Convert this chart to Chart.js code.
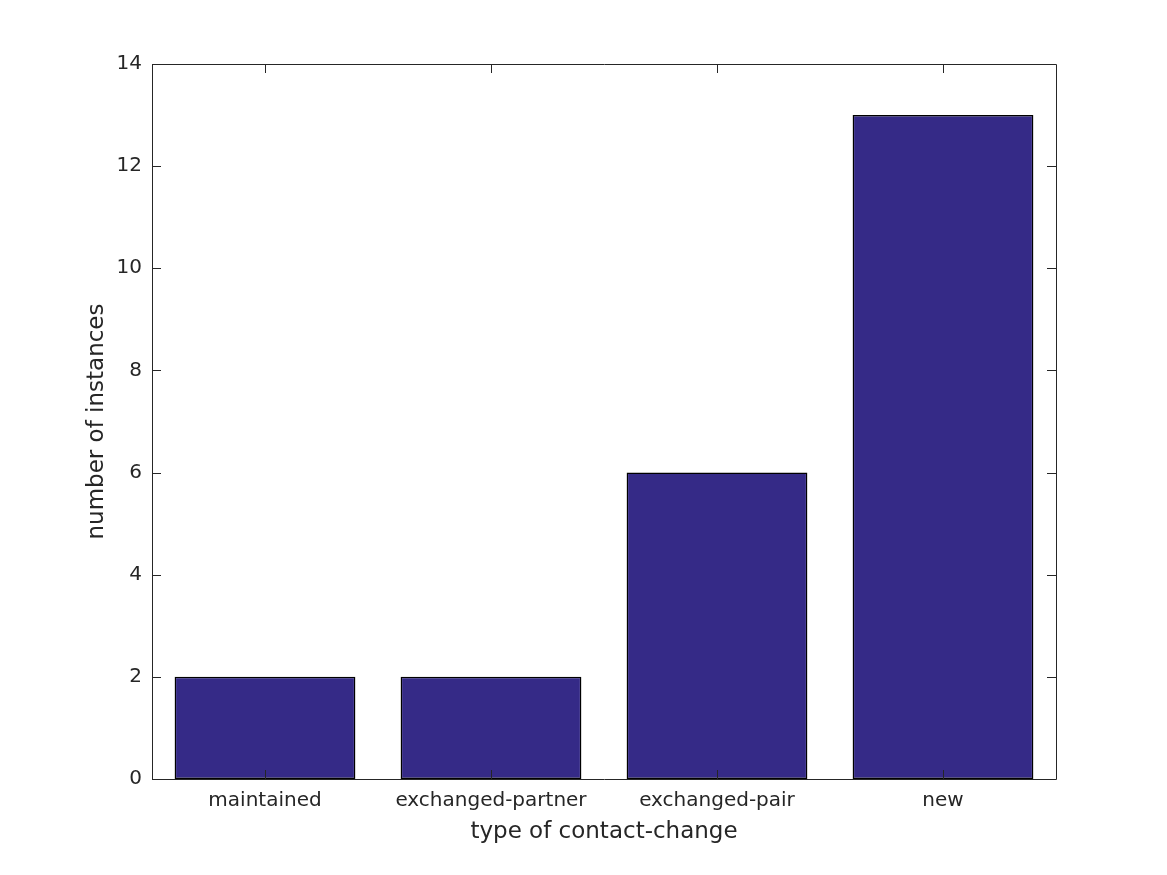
<!DOCTYPE html>
<html>
<head>
<meta charset="utf-8">
<script src="https://cdn.jsdelivr.net/npm/chart.js@4/dist/chart.umd.min.js"></script>
<style>
  html, body { margin: 0; padding: 0; background: #fff; }
  #wrap { width: 1167px; height: 875px; }
</style>
</head>
<body>
<div id="wrap"><canvas id="barChart" width="1167" height="875"></canvas></div>
<script>
const categories = ['maintained', 'exchanged-partner', 'exchanged-pair', 'new'];
const instances = [2, 2, 6, 13];
const yTicks = [0, 2, 4, 6, 8, 10, 12, 14];

const textColor = '#262626';
const fontFamily = 'DejaVu Sans';

// box, inward ticks and axis titles, MATLAB style
const matlabAxes = {
    id: 'matlabAxes',
    afterDatasetsDraw(chart) {
        const ctx = chart.ctx;
        const a = chart.chartArea;
        const xs = chart.scales.x;
        const ys = chart.scales.y;
        ctx.save();
        ctx.strokeStyle = '#262626';
        ctx.lineWidth = 1;
        ctx.beginPath();
        ctx.rect(a.left + 0.5, a.top + 0.5, a.right - a.left, a.bottom - a.top);
        ctx.stroke();
        ctx.beginPath();
        yTicks.forEach(v => {
            const y = Math.round(ys.getPixelForValue(v)) + 0.5;
            ctx.moveTo(a.left, y); ctx.lineTo(a.left + 9, y);
            ctx.moveTo(a.right, y); ctx.lineTo(a.right - 9, y);
        });
        categories.forEach((c, i) => {
            const x = Math.round(xs.getPixelForValue(i)) + 0.5;
            ctx.moveTo(x, a.bottom); ctx.lineTo(x, a.bottom - 9);
            ctx.moveTo(x, a.top); ctx.lineTo(x, a.top + 9);
        });
        ctx.stroke();

        ctx.fillStyle = textColor;
        ctx.font = '23px ' + fontFamily;
        ctx.textAlign = 'center';
        ctx.textBaseline = 'middle';
        ctx.fillText('type of contact-change', (a.left + a.right) / 2, 832);
        ctx.translate(97, (a.top + a.bottom) / 2);
        ctx.rotate(-Math.PI / 2);
        ctx.fillText('number of instances', 0, 0);
        ctx.restore();
    }
};

const ctx1 = document.getElementById('barChart');
const barChart = new Chart(ctx1, {
    type: 'bar',
    data: {
        labels: categories,
        datasets: [{
            label: 'instances',
            data: instances,
            backgroundColor: '#352a87',
            borderColor: '#000000',
            borderWidth: 1.5,
            borderSkipped: false,
            barPercentage: 0.8,
            categoryPercentage: 1.0
        }]
    },
    plugins: [matlabAxes],
    options: {
        responsive: false,
        animation: false,
        devicePixelRatio: 1,
        layout: { padding: { top: 64, right: 111, left: 0, bottom: 0 } },
        plugins: {
            legend: { display: false },
            tooltip: { enabled: false }
        },
        scales: {
            x: {
                grid: { display: false, drawTicks: false },
                border: { display: false },
                ticks: { color: textColor, font: { family: fontFamily, size: 20 }, padding: 10, maxRotation: 0 },
                afterFit(scale) { scale.height = 96; }
            },
            y: {
                min: 0,
                max: 14,
                grid: { display: false, drawTicks: false },
                border: { display: false },
                ticks: { stepSize: 2, color: textColor, font: { family: fontFamily, size: 20 }, padding: 10 },
                afterFit(scale) { scale.width = 152; }
            }
        }
    }
});
</script>
</body>
</html>
